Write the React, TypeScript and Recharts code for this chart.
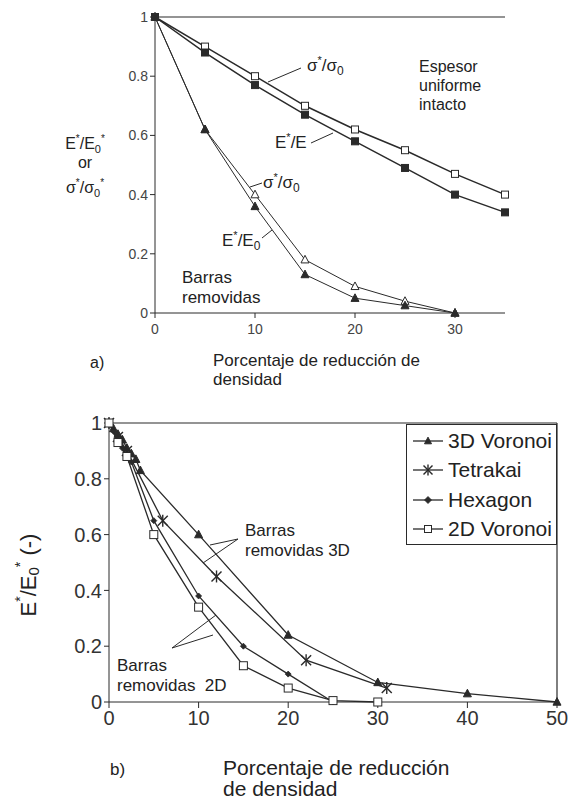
import { LineChart, Line, XAxis, YAxis, ReferenceLine, Legend } from 'recharts';

// ---- chart a) ----
const sigmaUniform = [
  { x: 0, y: 1 }, { x: 5, y: 0.9 }, { x: 10, y: 0.8 }, { x: 15, y: 0.7 },
  { x: 20, y: 0.62 }, { x: 25, y: 0.55 }, { x: 30, y: 0.47 }, { x: 35, y: 0.4 },
];
const modulusUniform = [
  { x: 0, y: 1 }, { x: 5, y: 0.88 }, { x: 10, y: 0.77 }, { x: 15, y: 0.67 },
  { x: 20, y: 0.58 }, { x: 25, y: 0.49 }, { x: 30, y: 0.4 }, { x: 35, y: 0.34 },
];
const sigmaRemoved = [
  { x: 0, y: 1 }, { x: 5, y: 0.62 }, { x: 10, y: 0.4 }, { x: 15, y: 0.18 },
  { x: 20, y: 0.09 }, { x: 25, y: 0.04 }, { x: 30, y: 0 },
];
const modulusRemoved = [
  { x: 0, y: 1 }, { x: 5, y: 0.62 }, { x: 10, y: 0.36 }, { x: 15, y: 0.13 },
  { x: 20, y: 0.05 }, { x: 25, y: 0.025 }, { x: 30, y: 0 },
];
const ticksXa = [0, 10, 20, 30];
const ticksY = [0, 0.2, 0.4, 0.6, 0.8, 1];

// ---- chart b) ----
const voronoi3D = [
  { x: 0, y: 1 }, { x: 0.5, y: 0.98 }, { x: 1, y: 0.96 }, { x: 1.5, y: 0.94 },
  { x: 2, y: 0.91 }, { x: 2.5, y: 0.89 }, { x: 3, y: 0.87 }, { x: 3.5, y: 0.83 },
  { x: 10, y: 0.6 }, { x: 20, y: 0.24 }, { x: 30, y: 0.07 }, { x: 40, y: 0.03 }, { x: 50, y: 0 },
];
const tetrakai = [
  { x: 0, y: 1 }, { x: 1, y: 0.95 }, { x: 2, y: 0.9 }, { x: 6, y: 0.65 },
  { x: 12, y: 0.45 }, { x: 22, y: 0.15 }, { x: 31, y: 0.05 },
];
const hexagon = [
  { x: 0, y: 1 }, { x: 0.5, y: 0.97 }, { x: 1, y: 0.94 }, { x: 1.5, y: 0.91 },
  { x: 2, y: 0.88 }, { x: 2.5, y: 0.86 }, { x: 5, y: 0.65 }, { x: 10, y: 0.38 },
  { x: 15, y: 0.2 }, { x: 20, y: 0.1 }, { x: 25, y: 0 },
];
const voronoi2D = [
  { x: 0, y: 1 }, { x: 1, y: 0.93 }, { x: 2, y: 0.88 }, { x: 5, y: 0.6 },
  { x: 10, y: 0.34 }, { x: 15, y: 0.13 }, { x: 20, y: 0.05 }, { x: 25, y: 0.005 }, { x: 30, y: 0 },
];
const ticksXb = [0, 10, 20, 30, 40, 50];

const seriesB = [
  { name: '3D Voronoi', data: voronoi3D, shape: 'triFill' },
  { name: 'Tetrakai', data: tetrakai, shape: 'star' },
  { name: 'Hexagon', data: hexagon, shape: 'diamond' },
  { name: '2D Voronoi', data: voronoi2D, shape: 'sqOpen' },
];

const INK = '#2a2a2a';
const FONT = '"Liberation Sans", Arial, sans-serif';

function Marker({ cx, cy, shape, size }: { cx: number; cy: number; shape: string; size: number }) {
  const s = size / 2;
  if (shape === 'sqFill' || shape === 'sqOpen') {
    return (
      <rect x={cx - s} y={cy - s} width={size} height={size}
        fill={shape === 'sqFill' ? INK : '#fff'} stroke={INK} strokeWidth={1} />
    );
  }
  if (shape === 'triFill' || shape === 'triOpen') {
    const pts = `${cx},${cy - s * 1.1} ${cx - s},${cy + s * 0.8} ${cx + s},${cy + s * 0.8}`;
    return <polygon points={pts} fill={shape === 'triFill' ? INK : '#fff'} stroke={INK} strokeWidth={1} />;
  }
  if (shape === 'diamond') {
    const pts = `${cx},${cy - s} ${cx + s},${cy} ${cx},${cy + s} ${cx - s},${cy}`;
    return <polygon points={pts} fill={INK} stroke={INK} strokeWidth={0.8} />;
  }
  // star / asterisk
  return (
    <g stroke={INK} strokeWidth={1.4}>
      <line x1={cx - s} y1={cy - s} x2={cx + s} y2={cy + s} />
      <line x1={cx - s} y1={cy + s} x2={cx + s} y2={cy - s} />
      <line x1={cx} y1={cy - s * 1.2} x2={cx} y2={cy + s * 1.2} />
    </g>
  );
}

const dotFor = (name: string, shape: string, size: number) => (p: any) => (
  <Marker key={`${name}-${p.index}`} cx={p.cx} cy={p.cy} shape={shape} size={size} />
);

function LegendBox() {
  return (
    <div style={{
      border: `1.5px solid ${INK}`, background: '#fff', width: 151, height: 121,
      boxSizing: 'border-box', padding: '1px 0 0 4px', fontFamily: FONT, fontSize: 21, color: '#222',
    }}>
      {seriesB.map((s) => (
        <div key={s.name} style={{ display: 'flex', alignItems: 'center', height: 29.5 }}>
          <svg width={34} height={20} style={{ marginRight: 3 }}>
            <line x1={2} y1={10} x2={32} y2={10} stroke={INK} strokeWidth={1.3} />
            <Marker cx={17} cy={10} shape={s.shape} size={s.shape === 'star' ? 9 : 7} />
          </svg>
          <span>{s.name}</span>
        </div>
      ))}
    </div>
  );
}

const txt = { fontFamily: FONT, fill: '#222' };

export default function App() {
  return (
    <div style={{ position: 'absolute', left: 0, top: 0, width: 570, height: 801, background: '#fff' }}>
      <div style={{ position: 'absolute', left: 0, top: 0 }}>
        <LineChart width={570} height={400} margin={{ top: 17, right: 65, bottom: 57, left: 100 }}>
          <XAxis type="number" dataKey="x" domain={[0, 35]} ticks={ticksXa} tickSize={5} tickMargin={6}
            stroke={INK} tick={{ fontSize: 14, fill: '#444', fontFamily: FONT }} height={30} />
          <YAxis type="number" dataKey="y" domain={[0, 1]} ticks={ticksY} tickSize={5} width={55}
            stroke={INK} tick={{ fontSize: 14, fill: '#444', fontFamily: FONT }} />
          <ReferenceLine y={1} stroke={INK} strokeWidth={1.2} />
          <Line data={sigmaUniform} dataKey="y" stroke={INK} strokeWidth={1.5} isAnimationActive={false}
            dot={dotFor('su', 'sqOpen', 7)} />
          <Line data={modulusUniform} dataKey="y" stroke={INK} strokeWidth={1.5} isAnimationActive={false}
            dot={dotFor('mu', 'sqFill', 7)} />
          <Line data={sigmaRemoved} dataKey="y" stroke={INK} strokeWidth={1} isAnimationActive={false}
            dot={dotFor('sr', 'triOpen', 8)} />
          <Line data={modulusRemoved} dataKey="y" stroke={INK} strokeWidth={1} isAnimationActive={false}
            dot={dotFor('mr', 'triFill', 8)} />
        </LineChart>
      </div>
      <div style={{ position: 'absolute', left: 0, top: 400 }}>
        <LineChart width={570} height={401} margin={{ top: 23, right: 13, bottom: 64, left: 59 }}>
          <XAxis type="number" dataKey="x" domain={[0, 50]} ticks={ticksXb} tickSize={6} tickMargin={3}
            stroke={INK} tick={{ fontSize: 20, fill: '#333', fontFamily: FONT }} height={35} />
          <YAxis type="number" dataKey="y" domain={[0, 1]} ticks={ticksY} tickSize={5} width={50}
            stroke={INK} tick={{ fontSize: 20, fill: '#333', fontFamily: FONT }} />
          <ReferenceLine y={1} stroke={INK} strokeWidth={1.2} />
          <ReferenceLine x={50} stroke={INK} strokeWidth={1.2} />
          <Legend layout="vertical" align="center" verticalAlign="middle" content={() => <LegendBox />}
            wrapperStyle={{ top: 24, left: 406, width: 151, height: 121 }} />
          {seriesB.map((s) => (
            <Line key={s.name} name={s.name} data={s.data} dataKey="y" stroke={INK} strokeWidth={1.3}
              isAnimationActive={false} dot={dotFor(s.name, s.shape, s.shape === 'star' ? 10 : s.shape === 'diamond' ? 6 : 8)} />
          ))}
        </LineChart>
      </div>
      <svg width={570} height={801} style={{ position: 'absolute', left: 0, top: 0, pointerEvents: 'none' }}>
        {/* a) annotations */}
        <g {...txt} fontSize={17}>
          <text x={307} y={71}>σ<tspan dy={-7} fontSize={11}>*</tspan><tspan dy={7}>/σ</tspan><tspan dy={4} fontSize={12}>0</tspan></text>
          <line x1={268} y1={82} x2={301} y2={68} stroke={INK} />
          <text x={275} y={148}>E<tspan dy={-7} fontSize={11}>*</tspan><tspan dy={7}>/E</tspan></text>
          <line x1={311} y1={143} x2={333} y2={133} stroke={INK} />
          <text x={263} y={188}>σ<tspan dy={-7} fontSize={11}>*</tspan><tspan dy={7}>/σ</tspan><tspan dy={4} fontSize={12}>0</tspan></text>
          <line x1={250} y1={187} x2={262} y2={183} stroke={INK} />
          <text x={222} y={246}>E<tspan dy={-7} fontSize={11}>*</tspan><tspan dy={7}>/E</tspan><tspan dy={4} fontSize={12}>0</tspan></text>
          <line x1={262} y1={238} x2={272} y2={230} stroke={INK} />
          <text x={182} y={283}>Barras</text>
          <text x={182} y={303}>removidas</text>
        </g>
        <g {...txt} fontSize={16}>
          <text x={419} y={72}>Espesor</text>
          <text x={419} y={91}>uniforme</text>
          <text x={419} y={110}>intacto</text>
        </g>
        <g {...txt} fontSize={16} textAnchor="middle">
          <text x={85} y={149}>E<tspan dy={-7} fontSize={10}>*</tspan><tspan dy={7}>/E</tspan><tspan dy={4} fontSize={11}>0</tspan><tspan dy={-11} fontSize={10}>*</tspan></text>
          <text x={85} y={168}>or</text>
          <text x={85} y={193}>σ<tspan dy={-7} fontSize={10}>*</tspan><tspan dy={7}>/σ</tspan><tspan dy={4} fontSize={11}>0</tspan><tspan dy={-11} fontSize={10}>*</tspan></text>
        </g>
        <g {...txt} fontSize={17}>
          <text x={90} y={368} fontSize={16}>a)</text>
          <text x={213} y={366}>Porcentaje de reducción de</text>
          <text x={213} y={385}>densidad</text>
        </g>
        {/* b) annotations */}
        <g {...txt} fontSize={17}>
          <text x={245} y={536}>Barras</text>
          <text x={245} y={556}>removidas 3D</text>
          <line x1={238} y1={539} x2={210} y2={545} stroke={INK} />
          <line x1={238} y1={539} x2={203} y2={563} stroke={INK} />
          <text x={117} y={671}>Barras</text>
          <text x={117} y={691} style={{ whiteSpace: 'pre' }}>removidas  2D</text>
          <line x1={172} y1={648} x2={216} y2={615} stroke={INK} />
          <line x1={172} y1={648} x2={213} y2={635} stroke={INK} />
        </g>
        <g {...txt} fontSize={21}>
          <text x={110} y={775} fontSize={17}>b)</text>
          <text x={223} y={775}>Porcentaje de reducción</text>
          <text x={223} y={796}>de densidad</text>
        </g>
        <g {...txt} fontSize={22}>
          <text x={28} y={575} textAnchor="middle" dominantBaseline="central" transform="rotate(-90, 28, 575)">
            E<tspan dy={-8} fontSize={14}>*</tspan><tspan dy={8}>/E</tspan><tspan dy={5} fontSize={15}>0</tspan><tspan dy={-13} fontSize={14}>*</tspan><tspan dy={8}> (-)</tspan>
          </text>
        </g>
      </svg>
    </div>
  );
}
